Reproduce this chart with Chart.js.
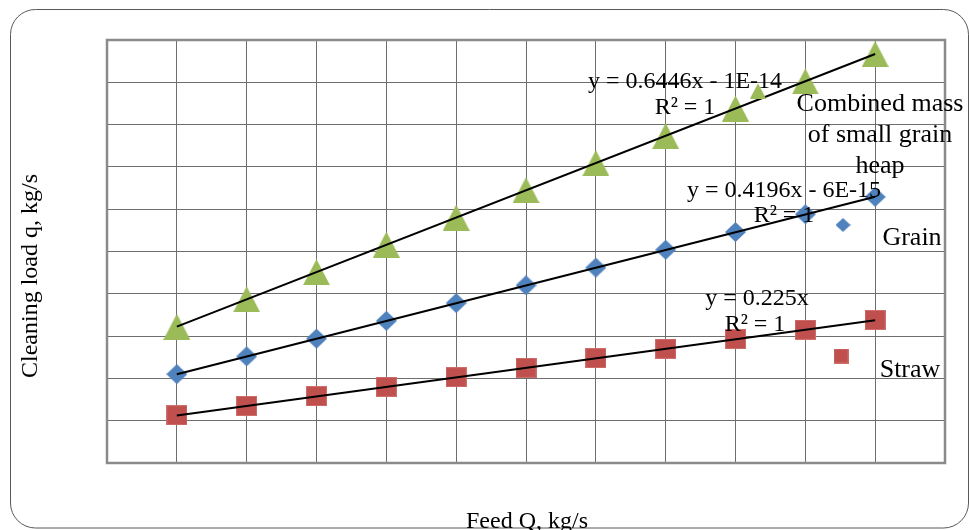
<!DOCTYPE html>
<html>
<head>
<meta charset="utf-8">
<script src="https://cdn.jsdelivr.net/npm/chart.js@4.4.0/dist/chart.umd.min.js"></script>
<style>
  html, body { margin: 0; padding: 0; background: #fff; }
  #wrap { width: 969px; height: 530px; }
</style>
</head>
<body>
<div id="wrap"><canvas id="chart" width="969" height="530"></canvas></div>
<script>
// feed Q, kg/s
const feed = [5, 6, 7, 8, 9, 10, 11, 12, 13, 14, 15];
// cleaning load q, kg/s
const straw = [1.13, 1.35, 1.58, 1.80, 2.03, 2.25, 2.48, 2.70, 2.93, 3.15, 3.38];
const grain = [2.10, 2.52, 2.94, 3.36, 3.78, 4.20, 4.62, 5.04, 5.46, 5.88, 6.29];
const combined = [3.22, 3.87, 4.51, 5.16, 5.80, 6.45, 7.09, 7.73, 8.38, 9.02, 9.67];
// trendline ends (first and last feed value)
const trendX = [5, 15];
const strawTrend = [1.125, 3.375];
const grainTrend = [2.098, 6.294];
const combinedTrend = [3.223, 9.669];

const seriesNames = ["Combined mass\nof small grain\nheap", "Grain", "Straw"];
const trendTexts = [
  ["y = 0.6446x - 1E-14", "R² = 1"],
  ["y = 0.4196x - 6E-15", "R² = 1"],
  ["y = 0.225x", "R² = 1"]
];

const GREEN = "#9BBB59", BLUE = "#4F81BD", RED = "#C0504D";
const SERIF = "'Liberation Serif', 'DejaVu Serif', serif";

function makeMarker(kind, w, h, color) {
  const c = document.createElement("canvas");
  c.width = w; c.height = h;
  const g = c.getContext("2d");
  g.fillStyle = color;
  g.beginPath();
  if (kind === "tri") {
    g.moveTo(w / 2, 0); g.lineTo(w, h); g.lineTo(0, h);
  } else if (kind === "dia") {
    g.moveTo(w / 2, 0); g.lineTo(w, h / 2); g.lineTo(w / 2, h); g.lineTo(0, h / 2);
  } else {
    g.rect(0, 0, w, h);
  }
  g.closePath();
  g.fill();
  if (kind === "sq") {
    g.strokeStyle = "rgba(215,130,128,0.6)";
    g.lineWidth = 1;
    g.strokeRect(0.5, 0.5, w - 1, h - 1);
  }
  return c;
}

const triMark = makeMarker("tri", 27, 26, GREEN);
const diaMark = makeMarker("dia", 21, 20, BLUE);
const sqMark = makeMarker("sq", 21, 20, RED);
const triSmall = makeMarker("tri", 16, 15, GREEN);
const diaSmall = makeMarker("dia", 15, 14, BLUE);
const sqSmall = makeMarker("sq", 15, 15, RED);

const pts = (xs, ys) => xs.map((x, i) => ({ x: x, y: ys[i] }));

const trend = (ys) => ({
  type: "line",
  data: pts(trendX, ys),
  borderColor: "#000",
  borderWidth: 2,
  pointRadius: 0,
  fill: false
});

const decor = {
  id: "decor",
  beforeDraw(chart) {
    const ctx = chart.ctx;
    ctx.save();
    ctx.fillStyle = "#fff";
    ctx.fillRect(0, 0, chart.width, chart.height);
    ctx.strokeStyle = "#595959";
    ctx.lineWidth = 1;
    ctx.beginPath();
    ctx.roundRect(10.5, 9.5, 958, 518.5, 25);
    ctx.stroke();
    ctx.restore();
  },
  beforeDatasetsDraw(chart) {
    const a = chart.chartArea, ctx = chart.ctx;
    ctx.save();
    ctx.strokeStyle = "#8a8a8a";
    ctx.lineWidth = 2.5;
    ctx.strokeRect(a.left, a.top, a.right - a.left, a.bottom - a.top);
    ctx.restore();
  },
  afterDraw(chart) {
    const ctx = chart.ctx;
    ctx.save();
    ctx.fillStyle = "#000";
    ctx.textAlign = "center";
    ctx.textBaseline = "alphabetic";

    // trendline equations
    ctx.font = "24px " + SERIF;
    const eqPos = [[685, 88, 114], [784, 197, 222], [757, 305, 331]];
    trendTexts.forEach((t, i) => {
      ctx.fillText(t[0], eqPos[i][0], eqPos[i][1]);
      ctx.fillText(t[1], eqPos[i][0] - (i === 2 ? 2 : 0), eqPos[i][2]);
    });

    // series labels with their markers
    ctx.font = "26px " + SERIF;
    seriesNames[0].split("\n").forEach((line, k) => ctx.fillText(line, 880, 111 + k * 31));
    ctx.fillText(seriesNames[1], 912, 245);
    ctx.fillText(seriesNames[2], 910, 377);
    ctx.drawImage(triSmall, 758 - 8, 91 - 7.5);
    ctx.drawImage(diaSmall, 843 - 7.5, 225 - 7);
    ctx.drawImage(sqSmall, 841 - 7.5, 356 - 7.5);

    // axis titles
    ctx.font = "24px " + SERIF;
    ctx.fillText("Feed Q, kg/s", 527, 528);
    ctx.translate(37, 276);
    ctx.rotate(-Math.PI / 2);
    ctx.fillText("Cleaning load q, kg/s", 0, 0);
    ctx.restore();
  }
};

new Chart(document.getElementById("chart"), {
  type: "scatter",
  data: {
    datasets: [
      trend(combinedTrend),
      trend(grainTrend),
      trend(strawTrend),
      { label: "Combined", data: pts(feed, combined), pointStyle: triMark, pointRadius: 13 },
      { label: "Grain", data: pts(feed, grain), pointStyle: diaMark, pointRadius: 10 },
      { label: "Straw", data: pts(feed, straw), pointStyle: sqMark, pointRadius: 10 }
    ]
  },
  options: {
    responsive: false,
    animation: false,
    devicePixelRatio: 1,
    layout: { padding: { left: 107, top: 40, right: 24, bottom: 67 } },
    plugins: { legend: { display: false }, tooltip: { enabled: false } },
    scales: {
      x: {
        type: "linear", min: 4, max: 16,
        ticks: { display: false, stepSize: 1 },
        grid: { color: "#6e6e6e", lineWidth: 1, drawTicks: false },
        border: { display: false }
      },
      y: {
        type: "linear", min: 0, max: 10,
        ticks: { display: false, stepSize: 1 },
        grid: { color: "#6e6e6e", lineWidth: 1, drawTicks: false },
        border: { display: false }
      }
    }
  },
  plugins: [decor]
});
</script>
</body>
</html>
